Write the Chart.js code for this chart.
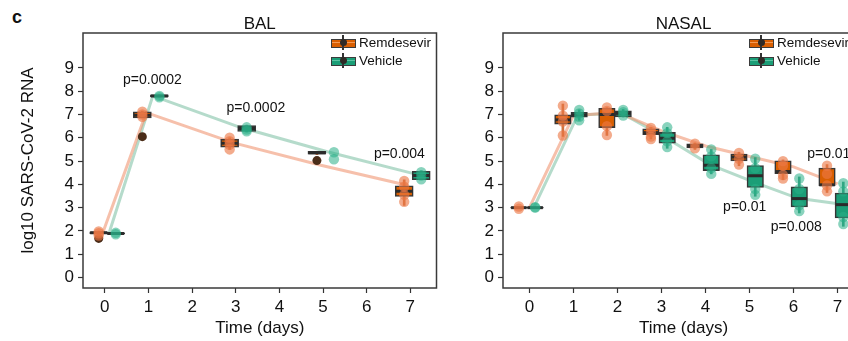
<!DOCTYPE html>
<html>
<head>
<meta charset="utf-8">
<script src="https://cdn.jsdelivr.net/npm/chart.js@4.4.0/dist/chart.umd.min.js"></script>
<style>
  html, body { margin: 0; padding: 0; background: #fff; }
  body { width: 848px; height: 341px; overflow: hidden; position: relative;
         font-family: "Liberation Sans", Arial, sans-serif; color: #111; }
  #panelC { position: absolute; left: 12px; top: 8px; font-weight: bold; font-size: 18px; line-height: 1; }
  canvas { position: absolute; top: 0; }
  #balCanvas { left: 0; }
  #nasCanvas { left: 448px; }
  .legend { position: absolute; top: 34px; font-size: 13.5px; }
  .legend .row { position: relative; height: 18px; line-height: 18px; padding-left: 28px; white-space: nowrap; }
  .sym { position: absolute; left: 0; top: 4.5px; width: 25px; height: 9px; box-sizing: border-box; border: 1.5px solid #3b3b3b; }
  .sym .h { position: absolute; left: 0; right: 0; top: 2.2px; height: 1.6px; }
  .sym .v { position: absolute; left: 10.3px; top: -4.5px; width: 1.4px; height: 15px; background: #333; }
  .sym .d { position: absolute; left: 7.5px; top: -0.5px; width: 7px; height: 7px; border-radius: 50%; background: #2f2a26; }
  .rem { background: #D95F02; } .rem .h { background: #F29A58; }
  .veh { background: #1B9E77; } .veh .h { background: #5CC4A3; }
</style>
</head>
<body>
<div id="panelC">c</div>
<canvas id="balCanvas" width="448" height="341"></canvas>
<canvas id="nasCanvas" width="432" height="341"></canvas>

<div class="legend" style="left:331px">
  <div class="row"><span class="sym rem"><span class="h"></span><span class="v"></span><span class="d"></span></span>Remdesevir</div>
  <div class="row"><span class="sym veh"><span class="h"></span><span class="v"></span><span class="d"></span></span>Vehicle</div>
</div>
<div class="legend" style="left:749px">
  <div class="row"><span class="sym rem"><span class="h"></span><span class="v"></span><span class="d"></span></span>Remdesevir</div>
  <div class="row"><span class="sym veh"><span class="h"></span><span class="v"></span><span class="d"></span></span>Vehicle</div>
</div>

<script>
// ── Data ─────────────────────────────────────────────────────
const yTicks = [0, 1, 2, 3, 4, 5, 6, 7, 8, 9];
const xTicks = [0, 1, 2, 3, 4, 5, 6, 7];

// BAL   box = [low whisker, q1, median, q3, high whisker]
const balDays    = [0, 1, 3, 5, 7];
const balRemBox  = [[1.86, 1.88, 1.92, 1.96, 1.98], [6.85, 6.85, 6.97, 7.12, 7.15], [5.5, 5.6, 5.77, 5.94, 6.0], [5.27, 5.3, 5.36, 5.42, 5.42], [3.1, 3.48, 3.7, 3.94, 4.2]];
const balVehBox  = [[1.86, 1.87, 1.89, 1.92, 1.93], [7.75, 7.76, 7.8, 7.84, 7.85], [6.25, 6.27, 6.4, 6.52, 6.52], null, [4.2, 4.2, 4.38, 4.56, 4.58]];
const balRemPts  = [[1.98, 1.9, 1.8], [7.12, 7.0, 6.9], [6.0, 5.85, 5.7, 5.5], [], [4.15, 3.9, 3.55, 3.25]];
const balRemOut  = [[1.68], [6.05], [], [5.02], []];
const balVehPts  = [[1.92, 1.86], [7.8, 7.74], [6.45, 6.35, 6.28], [5.38, 5.08], [4.52, 4.38, 4.22]];
const balVehOut  = [[], [], [], [], []];
const balRemLine = [1.9, 7.08, 5.78, 4.82, 3.95];
const balVehLine = [1.92, 7.8, 6.45, 5.4, 4.45];
const balPText   = ["p=0.0002", "p=0.0002", "p=0.004"];
const balPX      = [1.09, 3.46, 6.75];
const balPY      = [8.46, 7.27, 5.31];

// NASAL
const nasDays    = [0, 1, 2, 3, 4, 5, 6, 7];
const nasRemBox  = [[2.98, 2.98, 3.0, 3.02, 3.02], [6.06, 6.59, 6.77, 6.99, 7.45], [6.1, 6.44, 7.0, 7.27, 7.3], [5.95, 6.13, 6.22, 6.39, 6.45],
                    [5.5, 5.56, 5.65, 5.74, 5.78], [4.8, 5.01, 5.17, 5.3, 5.38], [4.2, 4.46, 4.55, 5.01, 5.05], [3.65, 3.94, 3.98, 4.7, 4.85]];
const nasVehBox  = [[2.98, 2.98, 3.0, 3.02, 3.02], [6.75, 6.89, 6.98, 7.09, 7.2], [6.9, 6.9, 7.05, 7.16, 7.22], [5.55, 5.77, 5.98, 6.23, 6.45],
                    [4.45, 4.59, 4.82, 5.27, 5.5], [3.49, 3.87, 4.37, 4.81, 5.15], [2.77, 3.03, 3.39, 3.89, 4.32], [2.2, 2.56, 3.13, 3.63, 4.1]];
const nasRemPts  = [[3.05, 2.95], [7.38, 6.95, 6.7, 6.1], [7.3, 7.15, 6.5, 6.12], [6.42, 6.25, 6.05, 5.95],
                    [5.75, 5.55], [5.35, 5.1, 4.85], [5.0, 4.8, 4.4, 4.25], [4.8, 4.45, 3.95, 3.7]];
const nasVehPts  = [[3.0, 3.02], [7.2, 7.05, 6.9, 6.75], [7.2, 7.1, 6.95], [6.45, 6.2, 5.85, 5.6],
                    [5.5, 5.2, 4.7, 4.45], [5.1, 4.7, 3.8, 3.55], [4.25, 3.8, 3.1, 2.85], [4.05, 3.7, 2.6, 2.3]];
const nasRemOut  = [[], [], [], [], [], [], [], []];
const nasVehOut  = [[], [], [], [], [], [], [], []];
const nasRemLine = [3.0, 6.95, 7.1, 6.3, 5.65, 5.2, 4.75, 4.02];
const nasVehLine = [3.0, 6.98, 7.05, 6.0, 4.85, 4.1, 3.4, 3.15];
const nasPText   = ["p=0.01", "p=0.008", "p=0.01"];
const nasPX      = [4.89, 6.06, 6.8];
const nasPY      = [3.03, 2.17, 5.31];

// ── Styles ───────────────────────────────────────────────────
const FONT = '"Liberation Sans", Arial, sans-serif';
const REM = { fill: "#D95F02", pt: "rgba(236,120,70,0.62)", line: "rgba(240,150,115,0.6)", wh: "rgba(200,90,30,0.85)" };
const VEH = { fill: "#1B9E77", pt: "rgba(40,175,135,0.55)", line: "rgba(120,190,160,0.55)", wh: "rgba(25,140,105,0.85)" };

// panel frame
const frame = {
  id: "frame",
  afterDraw(chart) {
    const { ctx, chartArea: a } = chart;
    ctx.save();
    ctx.strokeStyle = "#3a3a3a";
    ctx.lineWidth = 1.5;
    ctx.strokeRect(a.left, a.top, a.right - a.left, a.bottom - a.top);
    ctx.restore();
  }
};

// p-value annotations placed in data units
const pLabels = {
  id: "pLabels",
  afterDatasetsDraw(chart, args, o) {
    const { ctx, scales: { x, y } } = chart;
    ctx.save();
    ctx.font = `14px ${FONT}`;
    ctx.fillStyle = "#111";
    ctx.textAlign = "center";
    ctx.textBaseline = "middle";
    o.text.forEach((t, i) => ctx.fillText(t, x.getPixelForValue(o.x[i]), y.getPixelForValue(o.y[i])));
    ctx.restore();
  }
};

function groupDatasets(days, boxes, pts, outs, lineY, col, dodge, lineDodge, thick) {
  const bx = [], wh = [], md = [];
  days.forEach((d, i) => {
    const b = boxes[i];
    if (!b) return;
    const x = d + dodge;
    wh.push({ x, y: [b[0], b[4]] });
    bx.push({ x, y: [b[1], b[3]] });
    md.push({ x, y: b[2] });
  });
  const p = [], o = [];
  days.forEach((d, i) => {
    pts[i].forEach(v => p.push({ x: d + dodge, y: v }));
    outs[i].forEach(v => o.push({ x: d + dodge, y: v }));
  });
  return [
    { type: "line", data: days.map((d, i) => ({ x: d + lineDodge, y: lineY[i] })),
      borderColor: col.line, borderWidth: 3, pointRadius: 0, tension: 0, order: 6 },
    { type: "bar", data: wh, backgroundColor: col.wh, barThickness: 2, grouped: false, order: 5 },
    { type: "bar", data: bx, backgroundColor: col.fill, borderColor: "#363636", borderWidth: 1.6,
      borderSkipped: false, barThickness: thick, grouped: false, order: 4 },
    { type: "scatter", data: md, pointStyle: "line", radius: thick / 2 - 0.5, borderColor: "#2b2b2b", borderWidth: 3, order: 3 },
    { type: "scatter", data: o, pointRadius: 4.5, backgroundColor: "#4a2c18", borderWidth: 0, order: 2 },
    { type: "scatter", data: p, pointRadius: 5.2, backgroundColor: col.pt, borderWidth: 0, order: 1 },
  ];
}

function makePanel(id, title, datasets, xr, axisW, showYTitle, padRight, pvals) {
  const tickGrid = { display: true, offset: false, drawOnChartArea: false, drawTicks: true,
                     tickLength: 5, tickColor: "#333", tickWidth: 1.2 };
  return new Chart(document.getElementById(id), {
    type: "scatter",
    data: { datasets },
    options: {
      responsive: false,
      animation: false,
      events: [],
      layout: { padding: { left: 0, right: padRight, top: 0, bottom: 0 } },
      plugins: {
        legend: { display: false },
        tooltip: { enabled: false },
        title: { display: true, text: title, fullSize: false, color: "#111",
                 font: { family: FONT, size: 17, weight: "normal", lineHeight: 1 }, padding: { top: 16, bottom: 0 } },
        pLabels: pvals,
      },
      scales: {
        x: {
          type: "linear", min: xr[0], max: xr[1], offset: false,
          afterBuildTicks: s => { s.ticks = xTicks.map(v => ({ value: v })); },
          afterFit: s => { s.height = 53; },
          ticks: { color: "#111", font: { family: FONT, size: 17 }, padding: 4, autoSkip: false, maxRotation: 0 },
          grid: tickGrid,
          border: { display: false },
          title: { display: true, text: "Time (days)", color: "#111", font: { family: FONT, size: 17 }, padding: { top: 0, bottom: 2 } },
        },
        y: {
          type: "linear", min: -0.45, max: 10.5, offset: false,
          afterBuildTicks: s => { s.ticks = yTicks.map(v => ({ value: v })); },
          afterFit: s => { s.width = axisW; },
          ticks: { color: "#111", font: { family: FONT, size: 17 }, padding: 4 },
          grid: tickGrid,
          border: { display: false },
          title: { display: showYTitle, text: "log10 SARS-CoV-2 RNA", color: "#111",
                   font: { family: FONT, size: 17 }, padding: { top: 18, bottom: 0 } },
        },
      },
    },
    plugins: [frame, pLabels],
  });
}

makePanel("balCanvas", "BAL", [
  ...groupDatasets(balDays, balRemBox, balRemPts, balRemOut, balRemLine, REM, -0.14, -0.05, 18),
  ...groupDatasets(balDays, balVehBox, balVehPts, balVehOut, balVehLine, VEH, 0.25, 0.1, 18),
], [-0.5, 7.6], 83, true, 11, { text: balPText, x: balPX, y: balPY });

makePanel("nasCanvas", "NASAL", [
  ...groupDatasets(nasDays, nasRemBox, nasRemPts, nasRemOut, nasRemLine, REM, -0.24, 0, 16.5),
  ...groupDatasets(nasDays, nasVehBox, nasVehPts, nasVehOut, nasVehLine, VEH, 0.13, 0.1, 16.5),
], [-0.6, 7.6], 55, false, 16, { text: nasPText, x: nasPX, y: nasPY });
</script>
</body>
</html>
